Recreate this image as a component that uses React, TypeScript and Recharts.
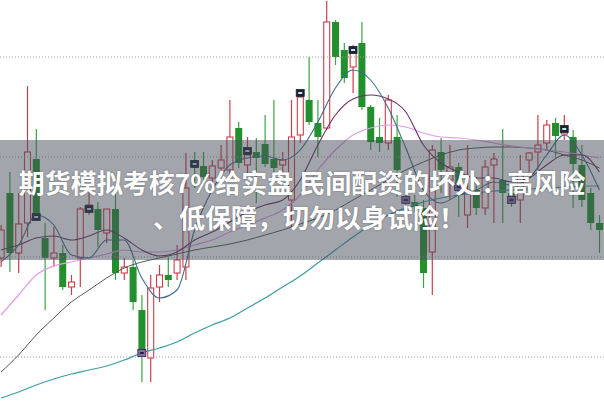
import { Bar, ComposedChart, Line, ReferenceLine, Scatter, XAxis, YAxis } from "recharts";

// candle prices (one per trading day)
const opens = [
  143, 208, 148, 178, 242, 163, 143, 148, 114, 143,
  191, 192, 168, 192, 128, 134, 91, 43, 114, 126,
  128, 134, 241, 235, 223, 233, 231, 273, 236, 249,
  257, 242, 236, 201, 266, 301, 278, 273, 379, 351,
  334, 358, 294, 264, 258, 264, 203, 199, 193, 149,
  249, 221, 234, 186, 211, 193, 236, 221, 208, 201,
  241, 249, 258, 278, 267, 264, 236, 208, 178, 143
];
const highs = [
  176, 229, 208, 315, 272, 178, 174, 156, 126, 194,
  209, 199, 192, 209, 143, 141, 106, 126, 136, 144,
  156, 248, 249, 249, 241, 256, 301, 279, 264, 263,
  286, 301, 249, 301, 311, 344, 301, 400, 381, 358,
  356, 379, 296, 283, 306, 286, 218, 206, 201, 256,
  263, 256, 238, 256, 224, 241, 248, 272, 211, 246,
  249, 286, 281, 283, 286, 271, 256, 213, 186, 186
];
const lows = [
  134, 129, 128, 164, 184, 91, 134, 111, 106, 114,
  186, 154, 158, 121, 121, 91, 19, 19, 99, 114,
  121, 121, 213, 221, 211, 226, 226, 233, 228, 198,
  234, 228, 228, 174, 258, 276, 244, 271, 336, 318,
  308, 291, 251, 249, 251, 204, 196, 189, 113, 106,
  208, 201, 184, 173, 186, 186, 178, 178, 194, 178,
  229, 231, 251, 243, 261, 193, 194, 171, 148, 140
];
const closes = [
  171, 148, 177, 249, 188, 143, 148, 114, 119, 192,
  196, 171, 192, 128, 134, 99, 48, 113, 126, 121,
  141, 213, 235, 224, 235, 241, 264, 238, 246, 243,
  237, 233, 241, 264, 304, 279, 264, 379, 344, 323,
  348, 294, 259, 258, 301, 231, 199, 194, 128, 251,
  231, 234, 213, 211, 193, 234, 242, 208, 198, 226,
  248, 256, 276, 265, 271, 237, 201, 178, 171, 184
];

// moving averages, read every second day (day 0, 2, 4, ...)
const ma5 = [139, 156, 186, 176, 146, 143, 161, 161, 123, 103, 111, 171, 211, 236, 243, 245, 241, 251, 279, 313, 331, 321, 293, 253, 211, 198, 206, 211, 219, 216, 223, 246, 266, 246, 211];
const ma10 = [151, 156, 163, 165, 161, 165, 171, 163, 151, 145, 149, 161, 169, 179, 189, 196, 201, 221, 256, 286, 302, 306, 302, 289, 256, 238, 229, 223, 223, 219, 223, 236, 246, 246, 229];
const ma20 = [86, 106, 126, 135, 139, 143, 147, 151, 149, 149, 151, 156, 161, 169, 176, 183, 191, 206, 231, 251, 266, 273, 276, 274, 268, 264, 263, 261, 258, 255, 253, 251, 249, 246, 243];
const ma30 = [29, 46, 66, 83, 99, 111, 123, 133, 139, 143, 147, 151, 154, 157, 161, 166, 171, 177, 183, 191, 201, 211, 221, 231, 239, 246, 251, 253, 254, 254, 253, 251, 246, 241, 233];
const ma60 = [3, 9, 16, 22, 27, 31, 35, 41, 48, 53, 59, 68, 76, 83, 93, 103, 114, 125, 138, 151, 164, 176, 186, 193, 199, 203, 206, 208, 210, 211, 212, 213, 214, 215, 215];

// signal markers
const markDays = [4, 10, 16, 22, 28, 34, 40, 46, 52, 58, 64];
const markPrices = [184, 192, 48, 237, 250, 308, 351, 201, 214, 201, 272];
const markKinds = ["dark", "dark", "purple", "dark", "dark", "dark", "dark", "purple", "purple", "purple", "dark"];

const gridPrices = [344, 244, 144, 44];

const titleLine1 = "期货模拟考核7%给实盘 民间配资的坏处：高风险";
const titleLine2 = "、低保障，切勿以身试险！";

const RED = "#cf3d4a";
const GREEN = "#22902c";
const GREEN_WICK = "#3aa543";

const rows = opens.map((open, i) => ({
  i,
  open,
  high: highs[i],
  low: lows[i],
  close: closes[i],
  range: [lows[i], highs[i]]
}));

const toLine = (vals: number[]) => vals.map((v, k) => ({ i: k * 2, v }));

const marks = markDays.map((d, k) => ({ i: d, mark: markPrices[k], kind: markKinds[k] }));

const Candle = (props: any) => {
  const { x, y, width, height, payload } = props;
  if (!payload || height == null) return null;
  const { open, close, high, low } = payload;
  const up = close >= open;
  const k = height / (high - low);
  const cx = x + width / 2;
  const top = y + (high - Math.max(open, close)) * k;
  const bottom = y + (high - Math.min(open, close)) * k;
  const bh = Math.max(1.5, bottom - top);
  return (
    <g>
      <line x1={cx} x2={cx} y1={y} y2={y + height} stroke={up ? RED : GREEN_WICK} strokeWidth={1.2} />
      {up ? (
        <rect x={x + 0.5} y={top} width={width - 1} height={bh} fill="#fff" stroke={RED} strokeWidth={1.1} />
      ) : (
        <rect x={x} y={top} width={width} height={bh} fill={GREEN} />
      )}
    </g>
  );
};

const Marker = (props: any) => {
  const { cx, cy, payload } = props;
  if (cx == null || cy == null) return null;
  const purple = payload?.kind === "purple";
  return (
    <g>
      <rect x={cx - 4} y={cy - 3.5} width={8} height={7} fill={purple ? "#8a6cb0" : "#1b2433"} stroke={purple ? "#2a2040" : "#1b2433"} strokeWidth={0.8} />
      <rect x={cx - 2} y={cy - 1} width={4} height={2} fill={purple ? "#2a2040" : "#cfe0ee"} />
    </g>
  );
};

const maLines = [
  { key: "ma60", vals: ma60, color: "#3d9ca3", w: 1.2 },
  { key: "ma30", vals: ma30, color: "#4f5b4c", w: 1 },
  { key: "ma20", vals: ma20, color: "#e39be3", w: 1.2 },
  { key: "ma10", vals: ma10, color: "#6e2f62", w: 1.1 },
  { key: "ma5", vals: ma5, color: "#3b6e8a", w: 1.1 }
];

export default function App() {
  return (
    <div style={{ position: "relative", width: 604, height: 401, background: "#fff", overflow: "hidden" }}>
      <style>{"body{margin:0}"}</style>
      <ComposedChart width={604} height={401} data={rows} margin={{ top: 0, right: 0, bottom: 0, left: 0 }}>
        <XAxis dataKey="i" type="number" domain={[-0.114, 68.52]} allowDataOverflow hide />
        <YAxis type="number" domain={[0, 401]} allowDataOverflow hide />
        {gridPrices.map((p) => (
          <ReferenceLine key={p} y={p} stroke="#9c9c9c" strokeDasharray="1 2" strokeWidth={1} />
        ))}
        <Bar dataKey="range" barSize={7} shape={Candle} isAnimationActive={false} />
        {maLines.map((m) => (
          <Line
            key={m.key}
            data={toLine(m.vals)}
            type="monotone"
            dataKey="v"
            stroke={m.color}
            strokeWidth={m.w}
            dot={false}
            activeDot={false}
            isAnimationActive={false}
          />
        ))}
        <Scatter data={marks} dataKey="mark" shape={Marker} isAnimationActive={false} />
      </ComposedChart>
      <div
        style={{
          position: "absolute",
          left: 0,
          top: 140,
          width: 604,
          height: 120,
          background: "rgba(70,76,90,0.5)",
          boxSizing: "border-box",
          paddingTop: 24,
          textAlign: "center",
          color: "#fff",
          fontFamily: "'Noto Sans CJK SC', 'Noto Sans', sans-serif",
          fontWeight: 700,
          fontSize: 26,
          lineHeight: "35px",
          whiteSpace: "nowrap",
          textShadow: "0 0 2px rgba(0,0,0,0.35)"
        }}
      >
        <div>{titleLine1}</div>
        <div style={{ paddingLeft: 14 }}>{titleLine2}</div>
      </div>
    </div>
  );
}
